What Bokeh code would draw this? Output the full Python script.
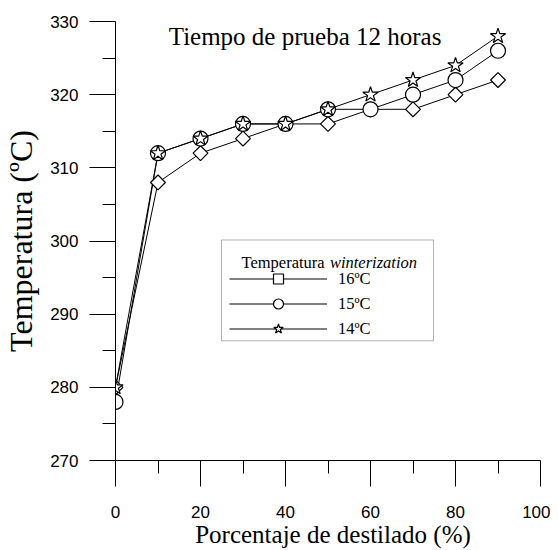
import numpy as np
from bokeh.plotting import figure
from bokeh.models import (Range1d, FixedTicker, Label, BoxAnnotation, Legend,
                          LegendItem)
from bokeh.embed import file_html
from bokeh.resources import INLINE

# ---- data ----
x_pct = [0, 10, 20, 30, 40, 50, 60, 70, 80, 90]
t16 = [280, 308, 312, 314, 316, 316, 318, 318, 320, 322]
t15 = [278, 312, 314, 316, 316, 318, 318, 320, 322, 326]
t14 = [280, 312, 314, 316, 316, 318, 320, 322, 324, 328]
series_labels = ["16ºC", "15ºC", "14ºC"]

x_major = [0, 20, 40, 60, 80, 100]
x_minor = [10, 30, 50, 70, 90]
y_major = [270, 280, 290, 300, 310, 320, 330]
y_minor = [275, 285, 295, 305, 315, 325]

title_text = "Tiempo de prueba 12 horas"
x_title = "Porcentaje de destilado (%)"
y_title = "Temperatura (ºC)"
legend_title_1 = "Temperatura"
legend_title_2 = "winterization"

SERIF = "Liberation Serif"
SANS = "Liberation Sans"

p = figure(width=550, height=550,
           x_range=Range1d(0, 102.35), y_range=Range1d(270, 330),
           output_backend="svg", toolbar_location=None,
           min_border_left=114, min_border_right=0,
           min_border_top=21, min_border_bottom=89)
p.xgrid.visible = False
p.ygrid.visible = False
p.outline_line_color = None
p.background_fill_color = "white"
p.border_fill_color = "white"

xa = p.xaxis[0]
ya = p.yaxis[0]
xa.ticker = FixedTicker(ticks=x_major, minor_ticks=x_minor)
ya.ticker = FixedTicker(ticks=y_major, minor_ticks=y_minor)
xa.bounds = (0, 100)
for ax in (xa, ya):
    ax.axis_line_color = "black"
    ax.axis_line_width = 1
    ax.major_tick_line_color = "black"
    ax.major_tick_line_width = 1
    ax.minor_tick_line_color = "black"
    ax.minor_tick_line_width = 1
    ax.major_tick_out = 26
    ax.major_tick_in = 0
    ax.minor_tick_out = 13
    ax.minor_tick_in = 0
    ax.major_label_text_font = SANS
    ax.major_label_text_font_size = "17px"
    ax.major_label_text_color = "black"
    ax.major_label_text_line_height = 1.0
    ax.axis_label_text_font = SERIF
    ax.axis_label_text_font_style = "normal"
    ax.axis_label_text_color = "black"
    ax.axis_label_text_line_height = 1.0

xa.axis_label = x_title
xa.axis_label_text_font_size = "25px"
xa.major_label_standoff = 19
xa.axis_label_standoff = 0

ya.axis_label = y_title
ya.axis_label_text_font_size = "32px"
ya.major_label_standoff = 11
ya.axis_label_standoff = 8

# ---- lines first, then markers ----
lines = []
for ys in (t16, t15, t14):
    lines.append(p.line(x_pct, ys, line_color="black", line_width=1))

s16 = p.scatter(x_pct, t16, marker="square", angle=np.pi / 4, size=10.5,
                fill_color="white", line_color="black", line_width=1.2)
s15 = p.scatter(x_pct, t15, marker="circle", size=15,
                fill_color="white", line_color="black", line_width=1.2)
s14 = p.scatter(x_pct, t14, marker="star", size=16,
                fill_color="white", line_color="black", line_width=1.2)
scatters = [s16, s15, s14]

# ---- title ----
p.add_layout(Label(x=44.6, y=328.0, text=title_text, text_align="center",
                   text_baseline="alphabetic", text_font=SERIF,
                   text_font_size="25px", text_color="black"))

# ---- legend box + legend ----
p.add_layout(BoxAnnotation(left=24.94, right=74.82, top=300.14, bottom=286.36,
                           fill_color="white", fill_alpha=1,
                           line_color="black", line_width=1))
p.add_layout(Label(x=29.65, y=297.0, text=legend_title_1, text_align="left",
                   text_baseline="alphabetic", text_font=SERIF,
                   text_font_size="16.5px", text_color="black"))
p.add_layout(Label(x=50.45, y=297.0, text=legend_title_2, text_align="left",
                   text_baseline="alphabetic", text_font=SERIF,
                   text_font_style="italic",
                   text_font_size="16.5px", text_color="black"))

items = [LegendItem(label=lab, renderers=[ln, sc])
         for lab, ln, sc in zip(series_labels, lines, scatters)]
legend = Legend(items=items, location=(114, 119), orientation="vertical",
                glyph_width=98, glyph_height=25, spacing=0,
                label_standoff=11, label_height=20, padding=0, margin=0,
                border_line_alpha=0, background_fill_alpha=0,
                label_text_font=SERIF, label_text_font_size="16.5px",
                label_text_color="black")
p.add_layout(legend)

open("out.html", "w").write(file_html(p, INLINE))
